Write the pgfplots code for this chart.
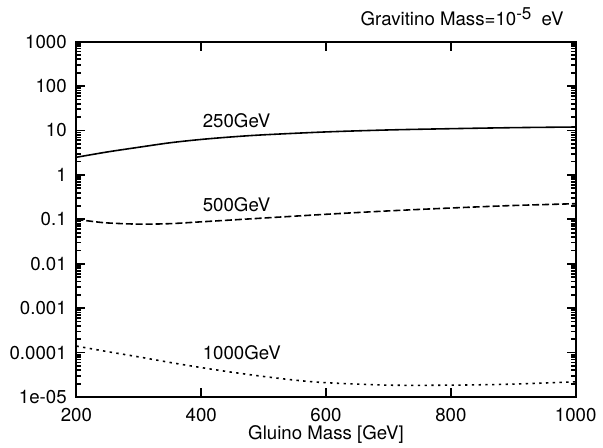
\documentclass[border=0pt]{standalone}
\usepackage{fontspec}
\setmainfont{TeX Gyre Heros}
\usepackage{pgfplots}
\pgfplotsset{compat=1.18}
\usetikzlibrary{calc}

\begin{document}
\begin{tikzpicture}[font=\fontsize{9.4}{11}\selectfont]
\begin{axis}[
  scale only axis, width=251.5pt, height=179pt,
  ymode=log, xmin=200, xmax=1000, ymin=1e-5, ymax=1000,
  xtick={200,400,600,800,1000},
  xticklabels={200,400,600,800,1000},
  ytick={1e-5,1e-4,1e-3,1e-2,1e-1,1,10,100,1000},
  yticklabels={1e-05,0.0001,0.001,0.01,0.1,1,10,100,1000},
  minor ytick={2e-5,3e-5,4e-5,5e-5,6e-5,7e-5,8e-5,9e-5,
    2e-4,3e-4,4e-4,5e-4,6e-4,7e-4,8e-4,9e-4,
    2e-3,3e-3,4e-3,5e-3,6e-3,7e-3,8e-3,9e-3,
    2e-2,3e-2,4e-2,5e-2,6e-2,7e-2,8e-2,9e-2,
    0.2,0.3,0.4,0.5,0.6,0.7,0.8,0.9,
    2,3,4,5,6,7,8,9,
    20,30,40,50,60,70,80,90,
    200,300,400,500,600,700,800,900},
  tick align=inside, major tick length=4.5pt, minor tick length=2.5pt,
  axis line style={line width=1pt},
  tick style={draw=black, line width=0.9pt},
  xticklabel style={yshift=-2pt},
  yticklabel style={xshift=-1.4pt},
  xlabel={Gluino Mass [GeV]},
  xlabel style={at={(axis description cs:0.5,0)}, anchor=base, yshift=-21.5pt, inner sep=0pt},
  clip=false,
]
% 250 GeV
\addplot[black, line width=0.8pt, smooth] coordinates {
  (200,2.5) (250,3.3) (300,4.2) (350,5.3) (400,6.3) (450,7.2) (500,8.0)
  (600,9.3) (700,10.3) (800,11.0) (900,11.6) (1000,12.0)};
% 500 GeV
\addplot[black, line width=0.8pt, smooth, dash pattern=on 3.5pt off 1.5pt] coordinates {
  (200,0.10) (225,0.09) (250,0.083) (300,0.078) (350,0.080) (400,0.088)
  (450,0.097) (500,0.107) (600,0.13) (700,0.155) (800,0.18) (900,0.205) (1000,0.225)};
% 1000 GeV
\addplot[black, line width=0.8pt, smooth, dash pattern=on 1.2pt off 2.2pt] coordinates {
  (200,1.4e-4) (250,1.05e-4) (300,8.0e-5) (350,6.0e-5) (400,4.6e-5) (450,3.6e-5)
  (500,2.9e-5) (550,2.4e-5) (600,2.1e-5) (700,1.85e-5) (800,1.85e-5) (900,1.95e-5) (1000,2.2e-5)};

\node[anchor=base west, inner sep=0pt] at (axis cs:402,11.4) {250GeV};
\node[anchor=base west, inner sep=0pt] at (axis cs:402,0.151) {500GeV};
\node[anchor=base west, inner sep=0pt] at (axis cs:402,7.1e-5) {1000GeV};

\coordinate (bl) at (rel axis cs:0,0);
\coordinate (tr) at (rel axis cs:1,1);
\coordinate (tl) at (rel axis cs:0,1);
\end{axis}
\node[anchor=base west, inner sep=0pt] at ($(tl)+(143pt,8pt)$)
  {Gravitino Mass=10\raisebox{3pt}{\fontsize{8.6}{10}\selectfont -5}\hspace{0.55em}eV};
\path ($(bl)+(-38.5pt,-25.5pt)$) rectangle ($(tr)+(11.5pt,21pt)$);
\end{tikzpicture}
\end{document}
